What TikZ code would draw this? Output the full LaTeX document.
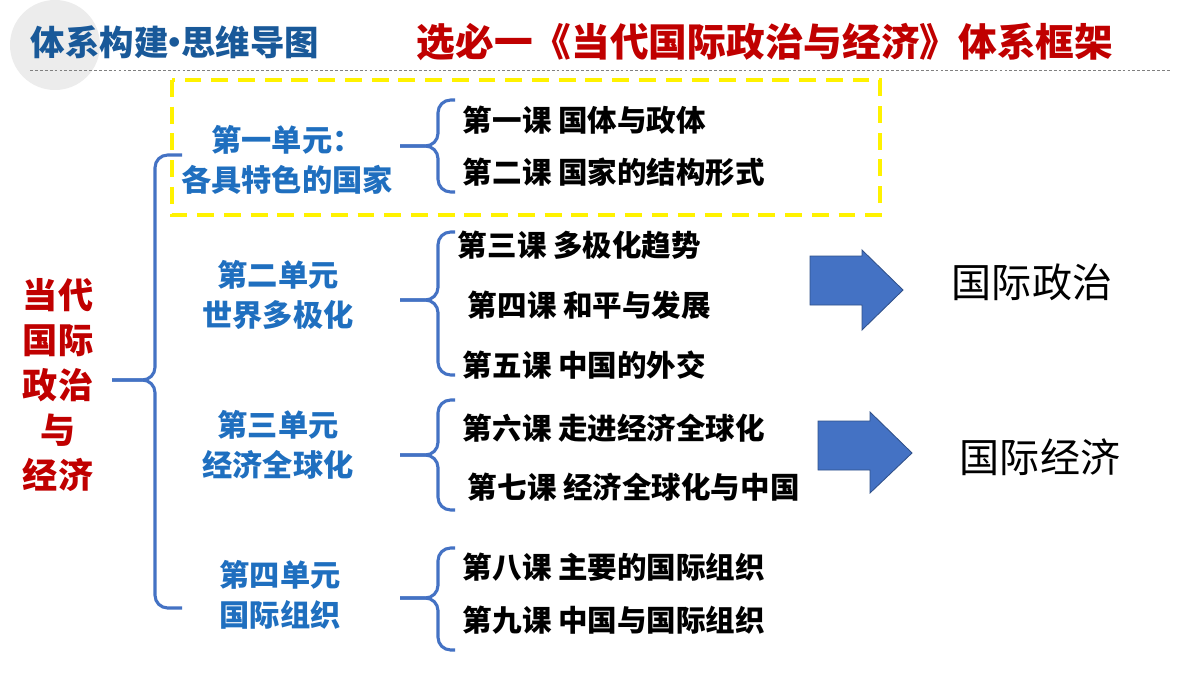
\documentclass[tikz,border=0pt]{standalone}
\usepackage{fontspec}
\setmainfont{Noto Sans CJK SC}
\newfontfamily\cjk{Noto Sans CJK SC}
\begin{document}
\begin{tikzpicture}[x=0.025cm,y=-0.025cm]
\definecolor{ublue}{HTML}{1F6FBF}
\definecolor{bblue}{HTML}{4472C4}
\definecolor{dred}{HTML}{C00000}
\tikzset{
 brc/.style={draw=bblue,line width=2.2pt,rounded corners=9pt},
 unit/.style={text=ublue,font=\cjk\bfseries\fontsize{21.5}{28}\selectfont,align=center},
 lesson/.style={anchor=west,font=\cjk\bfseries\fontsize{21}{24}\selectfont},
 big/.style={font=\cjk\fontsize{28.5}{32}\selectfont},
 barrow/.style={fill=bblue,draw=bblue!70!black,line width=0.6pt}
}
\useasboundingbox (0,0) rectangle (1200,675);
\fill[white] (0,0) rectangle (1200,675);
\fill[gray!15] (55,45) circle (45);
\draw[gray,line width=0.6pt,dash pattern=on 2pt off 1.5pt] (30,70) -- (1170,70);
\node[text=ublue!80!black,font=\cjk\bfseries\fontsize{24.5}{26}\selectfont] (t1) at (175,42) {体系构建\kern-0.32em•\kern-0.32em思维导图};
\node[text=dred,font=\cjk\bfseries\fontsize{27.5}{30}\selectfont] (t2) at (765,42) {选必一《当代国际政治与经济》体系框架};
\draw[yellow,line width=3pt,dash pattern=on 12pt off 7pt] (172,80) rectangle (880,215);
% root
\node[text=dred,font=\cjk\bfseries\fontsize{25}{32}\selectfont,align=center] (root) at (58,385) {当代\\国际\\政治\\与\\经济};
% big brace
\draw[brc] (182,155) -- (155,155) -- (155,380) -- (112,380);
\draw[brc] (182,608) -- (155,608) -- (155,380) -- (112,380);
% units
\node[unit] (u1) at (287,160) {第一单元：\\各具特色的国家};
\node[unit] (u2) at (278,295) {第二单元\\世界多极化};
\node[unit] (u3) at (278,445) {第三单元\\经济全球化};
\node[unit] (u4) at (280,595) {第四单元\\国际组织};
% small braces
\newcommand\mybr[3]{%
 \draw[brc] (455,#1) -- (438,#1) -- (438,#2) -- (400,#2);
 \draw[brc] (455,#3) -- (438,#3) -- (438,#2) -- (400,#2);}
\mybr{100}{146}{192}
\mybr{232}{300}{375}
\mybr{400}{455}{510}
\mybr{548}{598}{650}
% lessons
\node[lesson] (l1) at (458,120) {第一课 国体与政体};
\node[lesson] (l2) at (458,172) {第二课 国家的结构形式};
\node[lesson] (l3) at (453,245) {第三课 多极化趋势};
\node[lesson] (l4) at (463,305) {第四课 和平与发展};
\node[lesson] (l5) at (458,365) {第五课 中国的外交};
\node[lesson] (l6) at (458,428) {第六课 走进经济全球化};
\node[lesson] (l7) at (463,487) {第七课 经济全球化与中国};
\node[lesson] (l8) at (458,567) {第八课 主要的国际组织};
\node[lesson] (l9) at (458,620) {第九课 中国与国际组织};
% arrows
\draw[barrow] (810,256) -- (862,256) -- (862,250) -- (903,290) -- (862,330) -- (862,305) -- (810,305) -- cycle;
\draw[barrow] (818,421) -- (870,421) -- (870,412) -- (912,453) -- (870,493) -- (870,470) -- (818,470) -- cycle;
\node[big] (p) at (1032,282) {国际政治};
\node[big] (e) at (1040,457) {国际经济};
\end{tikzpicture}
\end{document}
